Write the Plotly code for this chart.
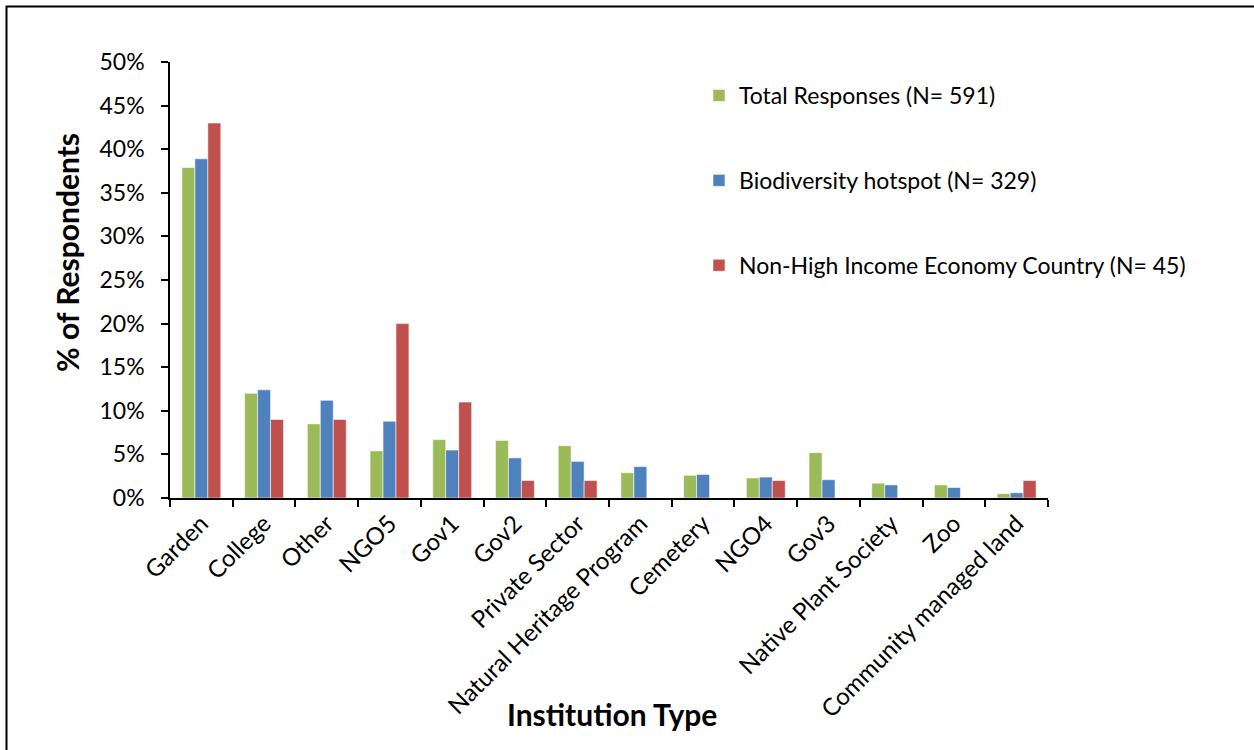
import plotly.graph_objects as go

# Institution categories along the x axis
categories = [
    "Garden", "College", "Other", "NGO5", "Gov1", "Gov2", "Private Sector",
    "Natural Heritage Program", "Cemetery", "NGO4", "Gov3",
    "Native Plant Society", "Zoo", "Community managed land",
]

# Percent of respondents per institution type
total_responses = [37.9, 12.0, 8.5, 5.4, 6.7, 6.6, 6.0, 2.9, 2.6, 2.3, 5.2, 1.7, 1.5, 0.5]
biodiversity_hotspot = [38.9, 12.4, 11.2, 8.8, 5.5, 4.6, 4.2, 3.6, 2.7, 2.4, 2.1, 1.5, 1.2, 0.6]
non_high_income = [43.0, 9.0, 9.0, 20.0, 11.0, 2.0, 2.0, 0.0, 0.0, 2.0, 0.0, 0.0, 0.0, 2.0]

series_names = [
    "Total Responses (N= 591)",
    "Biodiversity hotspot (N= 329)",
    "Non-High Income Economy Country (N= 45)",
]
series_colors = ["#9BBB59", "#4F81BD", "#C0504D"]

FONT = "Lato, Carlito, Calibri, sans-serif"

fig = go.Figure()
for i, (name, vals, col) in enumerate(zip(series_names,
                                          [total_responses, biodiversity_hotspot, non_high_income],
                                          series_colors)):
    fig.add_trace(go.Bar(
        x=categories, y=vals, name=name, legendgroup=f"g{i}",
        marker=dict(color=col, line=dict(color="rgba(255,255,255,0.55)", width=1)),
    ))

# Plot-area geometry in pixels, used to place the page frame, legend and titles
L, R, T, B = 170, 206, 62, 252
W, H = 1254, 750
pw, ph = W - L - R, H - T - B


def px(x):
    return (x - L) / pw


def py(y):
    return (H - B - y) / ph


fig.update_layout(
    width=W, height=H,
    margin=dict(l=L, r=R, t=T, b=B, pad=0),
    paper_bgcolor="white", plot_bgcolor="white",
    font=dict(family=FONT, size=23, color="black"),
    barmode="group", bargap=0.38, bargroupgap=0,
    showlegend=True,
    legend=dict(
        x=px(699), y=py(74), xanchor="left", yanchor="top",
        font=dict(size=23), traceorder="grouped", tracegroupgap=52,
        bgcolor="rgba(0,0,0,0)", itemwidth=30,
    ),
    xaxis=dict(
        showline=True, linecolor="black", linewidth=2,
        ticks="outside", tickson="boundaries", ticklen=7, tickwidth=2, tickcolor="black",
        tickangle=-45, tickfont=dict(size=24),
        showgrid=False,
    ),
    yaxis=dict(
        range=[0, 50], dtick=5, ticksuffix="%",
        showline=True, linecolor="black", linewidth=1.5,
        ticks="outside", ticklen=7, tickwidth=1.5, tickcolor="black",
        ticklabelstandoff=12,
        tickfont=dict(size=23), showgrid=False, zeroline=False,
    ),
    annotations=[
        dict(
            text="<b>% of Respondents</b>", textangle=-90,
            xref="paper", yref="paper", x=px(67), y=py(253),
            xanchor="center", yanchor="middle", showarrow=False,
            font=dict(size=30),
        ),
        dict(
            text="<b>Institution Type</b>",
            xref="paper", yref="paper", x=px(612), y=py(714),
            xanchor="center", yanchor="middle", showarrow=False,
            font=dict(size=30),
        ),
    ],
    shapes=[dict(
        type="path", xref="paper", yref="paper",
        path=f"M {px(6.5)},{py(760)} L {px(6.5)},{py(6.5)} L {px(1260)},{py(6.5)}",
        line=dict(color="black", width=2),
    )],
)

fig.write_html("out.html")
